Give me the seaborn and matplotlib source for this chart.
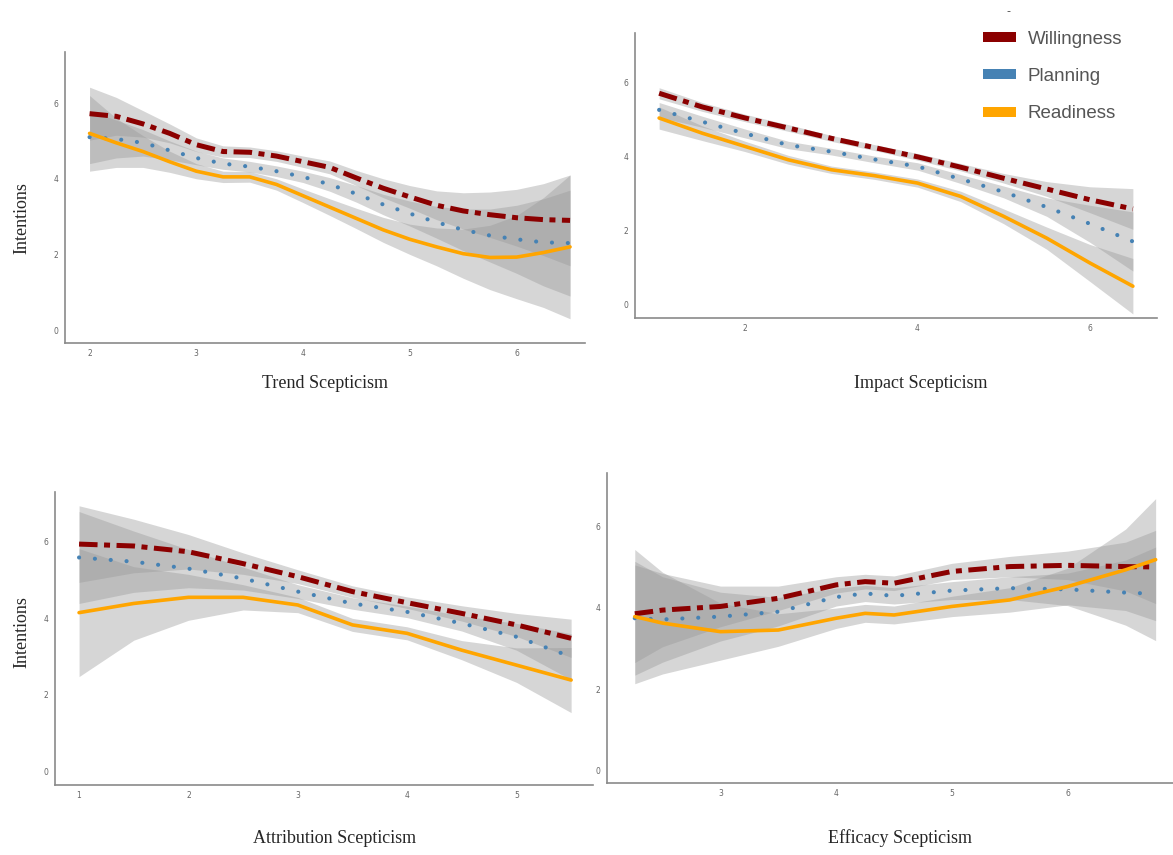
import numpy as np
import pandas as pd
import seaborn as sns
import matplotlib.pyplot as plt
from matplotlib.patches import Patch

# ---- data (smoothed curves + CI half widths) ----
trend_x = [2, 2.25, 2.5, 2.75, 3, 3.25, 3.5, 3.75, 4, 4.25, 4.5, 4.75, 5, 5.25, 5.5, 5.75, 6, 6.25, 6.5]
trend_will = [5.72, 5.65, 5.45, 5.2, 4.9, 4.72, 4.7, 4.6, 4.45, 4.3, 4.02, 3.75, 3.52, 3.3, 3.15, 3.05, 2.97, 2.92, 2.9]
trend_plan = [5.1, 5.05, 4.95, 4.75, 4.55, 4.4, 4.32, 4.2, 4.05, 3.85, 3.6, 3.32, 3.08, 2.85, 2.65, 2.5, 2.4, 2.32, 2.3]
trend_read = [5.2, 4.95, 4.72, 4.45, 4.2, 4.05, 4.05, 3.85, 3.55, 3.25, 2.95, 2.65, 2.4, 2.2, 2.02, 1.92, 1.93, 2.05, 2.2]
trend_will_se = [0.7, 0.5, 0.35, 0.25, 0.18, 0.15, 0.14, 0.14, 0.15, 0.17, 0.2, 0.25, 0.3, 0.38, 0.48, 0.6, 0.75, 0.95, 1.2]
trend_plan_se = [0.7, 0.5, 0.35, 0.25, 0.18, 0.15, 0.14, 0.14, 0.15, 0.18, 0.22, 0.27, 0.33, 0.42, 0.55, 0.7, 0.9, 1.15, 1.4]
trend_read_se = [1.0, 0.65, 0.42, 0.28, 0.2, 0.15, 0.14, 0.15, 0.18, 0.22, 0.27, 0.33, 0.4, 0.5, 0.65, 0.85, 1.1, 1.45, 1.9]

impact_x = [1.0, 1.5, 2, 2.5, 3, 3.5, 4, 4.5, 5, 5.5, 6, 6.5]
impact_will = [5.72, 5.35, 5.05, 4.78, 4.5, 4.25, 4.0, 3.72, 3.42, 3.13, 2.84, 2.59]
impact_plan = [5.27, 4.95, 4.63, 4.32, 4.14, 3.93, 3.74, 3.4, 3.05, 2.64, 2.19, 1.71]
impact_read = [5.05, 4.64, 4.28, 3.92, 3.65, 3.49, 3.29, 2.93, 2.39, 1.8, 1.13, 0.5]
impact_will_se = [0.15, 0.12, 0.1, 0.09, 0.08, 0.08, 0.09, 0.1, 0.13, 0.2, 0.35, 0.55]
impact_plan_se = [0.2, 0.15, 0.12, 0.1, 0.09, 0.09, 0.1, 0.12, 0.16, 0.25, 0.5, 0.8]
impact_read_se = [0.3, 0.2, 0.14, 0.12, 0.1, 0.1, 0.11, 0.14, 0.2, 0.3, 0.5, 0.75]

attrib_x = [1, 1.5, 2, 2.5, 3, 3.5, 4, 4.5, 5, 5.5]
attrib_will = [5.94, 5.89, 5.74, 5.43, 5.09, 4.7, 4.41, 4.13, 3.83, 3.48]
attrib_plan = [5.59, 5.48, 5.3, 5.04, 4.7, 4.39, 4.17, 3.87, 3.52, 3.0]
attrib_read = [4.15, 4.39, 4.55, 4.55, 4.35, 3.83, 3.61, 3.17, 2.78, 2.39]
attrib_will_se = [1.0, 0.7, 0.45, 0.28, 0.18, 0.15, 0.15, 0.2, 0.3, 0.5]
attrib_plan_se = [1.2, 0.8, 0.5, 0.3, 0.18, 0.15, 0.15, 0.2, 0.35, 0.6]
attrib_read_se = [1.67, 0.96, 0.6, 0.33, 0.2, 0.17, 0.17, 0.25, 0.45, 0.85]

effic_x = [2.26, 2.5, 3, 3.5, 4, 4.25, 4.5, 5, 5.5, 6, 6.5, 6.76]
effic_will = [3.85, 3.94, 4.03, 4.23, 4.56, 4.64, 4.6, 4.89, 5.01, 5.04, 5.01, 5.0]
effic_plan = [3.74, 3.71, 3.78, 3.9, 4.26, 4.35, 4.29, 4.42, 4.48, 4.45, 4.37, 4.34]
effic_read = [3.78, 3.62, 3.41, 3.45, 3.74, 3.86, 3.82, 4.03, 4.19, 4.52, 4.93, 5.18]
effic_will_se = [1.2, 0.9, 0.5, 0.3, 0.2, 0.18, 0.18, 0.2, 0.25, 0.35, 0.6, 0.9]
effic_plan_se = [1.4, 1.05, 0.6, 0.35, 0.22, 0.2, 0.2, 0.22, 0.28, 0.4, 0.8, 1.15]
effic_read_se = [1.65, 1.25, 0.7, 0.4, 0.25, 0.22, 0.22, 0.25, 0.3, 0.45, 1.0, 1.5]

series_names = ['Willingness', 'Planning', 'Readiness']
colors = {'Willingness': '#8B0000', 'Planning': '#4682B4', 'Readiness': '#FFA500'}
styles = {
    'Willingness': dict(linewidth=3.6, linestyle=(0, (3.7, 1.3, 1.2, 1.3))),
    'Planning': dict(linewidth=3.0, linestyle=(0, (0.01, 3.8)), dash_capstyle='round'),
    'Readiness': dict(linewidth=2.6, linestyle='-'),
}

panels = [
    # name, x, (will, plan, read), (se...), axes rect, xlim, ylim, xticks
    ('Trend Scepticism', trend_x, (trend_will, trend_plan, trend_read),
     (trend_will_se, trend_plan_se, trend_read_se),
     [65 / 1173, 1 - 343 / 855, 520 / 1173, 291 / 855], (1.77, 6.64), (-0.34, 7.35), [2, 3, 4, 5, 6]),
    ('Impact Scepticism', impact_x, (impact_will, impact_plan, impact_read),
     (impact_will_se, impact_plan_se, impact_read_se),
     [635 / 1173, 1 - 318 / 855, 522 / 1173, 285 / 855], (0.72, 6.78), (-0.36, 7.35), [2, 4, 6]),
    ('Attribution Scepticism', attrib_x, (attrib_will, attrib_plan, attrib_read),
     (attrib_will_se, attrib_plan_se, attrib_read_se),
     [55 / 1173, 1 - 785 / 855, 538 / 1173, 293 / 855], (0.78, 5.7), (-0.35, 7.3), [1, 2, 3, 4, 5]),
    ('Efficacy Scepticism', effic_x, (effic_will, effic_plan, effic_read),
     (effic_will_se, effic_plan_se, effic_read_se),
     [607 / 1173, 1 - 783 / 855, 566 / 1173, 310 / 855], (2.02, 6.91), (-0.31, 7.31), [3, 4, 5, 6]),
]
label_pos = [(325, 383), (921, 383), (335, 838), (900, 838)]

sns.set_style('white')
plt.rcParams['font.family'] = ['DejaVu Sans']

fig = plt.figure(figsize=(11.73, 8.55), dpi=100)

for (name, xs, ys, ses, rect, xlim, ylim, xticks), (lx, ly) in zip(panels, label_pos):
    ax = fig.add_axes(rect)
    frames = []
    for s, y, se in zip(series_names, ys, ses):
        frames.append(pd.DataFrame({'x': xs, 'y': y, 'lo': np.array(y) - np.array(se),
                                    'hi': np.array(y) + np.array(se), 'series': s}))
    df = pd.concat(frames, ignore_index=True)

    # confidence bands first, lines on top
    for s in series_names:
        d = df[df['series'] == s]
        ax.fill_between(d['x'], d['lo'], d['hi'], color='#999999', alpha=0.4, linewidth=0)
    for s in series_names:
        d = df[df['series'] == s]
        sns.lineplot(data=d, x='x', y='y', ax=ax, color=colors[s], **styles[s])

    ax.set_xlim(*xlim)
    ax.set_ylim(*ylim)
    ax.set_xticks(xticks)
    ax.set_yticks([0, 2, 4, 6])
    ax.set_xlabel('')
    ax.set_ylabel('')
    sns.despine(ax=ax)
    for sp in ['left', 'bottom']:
        ax.spines[sp].set_color('#8a8a8a')
        ax.spines[sp].set_linewidth(1.2)
    ax.tick_params(axis='both', length=2.5, width=0.8, color='#8a8a8a',
                   labelsize=5.5, labelcolor='#666666', pad=2)

    fig.text(lx / 1173, 1 - ly / 855, name, ha='center', va='center',
             family=['Liberation Serif'], fontsize=13)

fig.text(22 / 1173, 1 - 218 / 855, 'Intentions', rotation=90, ha='center', va='center',
         family=['Liberation Serif'], fontsize=13)
fig.text(22 / 1173, 1 - 632 / 855, 'Intentions', rotation=90, ha='center', va='center',
         family=['Liberation Serif'], fontsize=13)

handles = [Patch(facecolor=colors[s], edgecolor='none') for s in series_names]
fig.legend(handles, series_names, loc='upper left', bbox_to_anchor=(966 / 1173, 1 - 14 / 855),
           frameon=False, prop={'family': 'Liberation Sans', 'size': 13.5},
           labelcolor='#555555', handlelength=1.75, handleheight=0.45,
           labelspacing=1.08, handletextpad=0.65)
fig.text(1008 / 1173, 1 - 11 / 855, '-', ha='center', va='center', fontsize=8, color='#444444')

fig.savefig('out.png', dpi=100)
